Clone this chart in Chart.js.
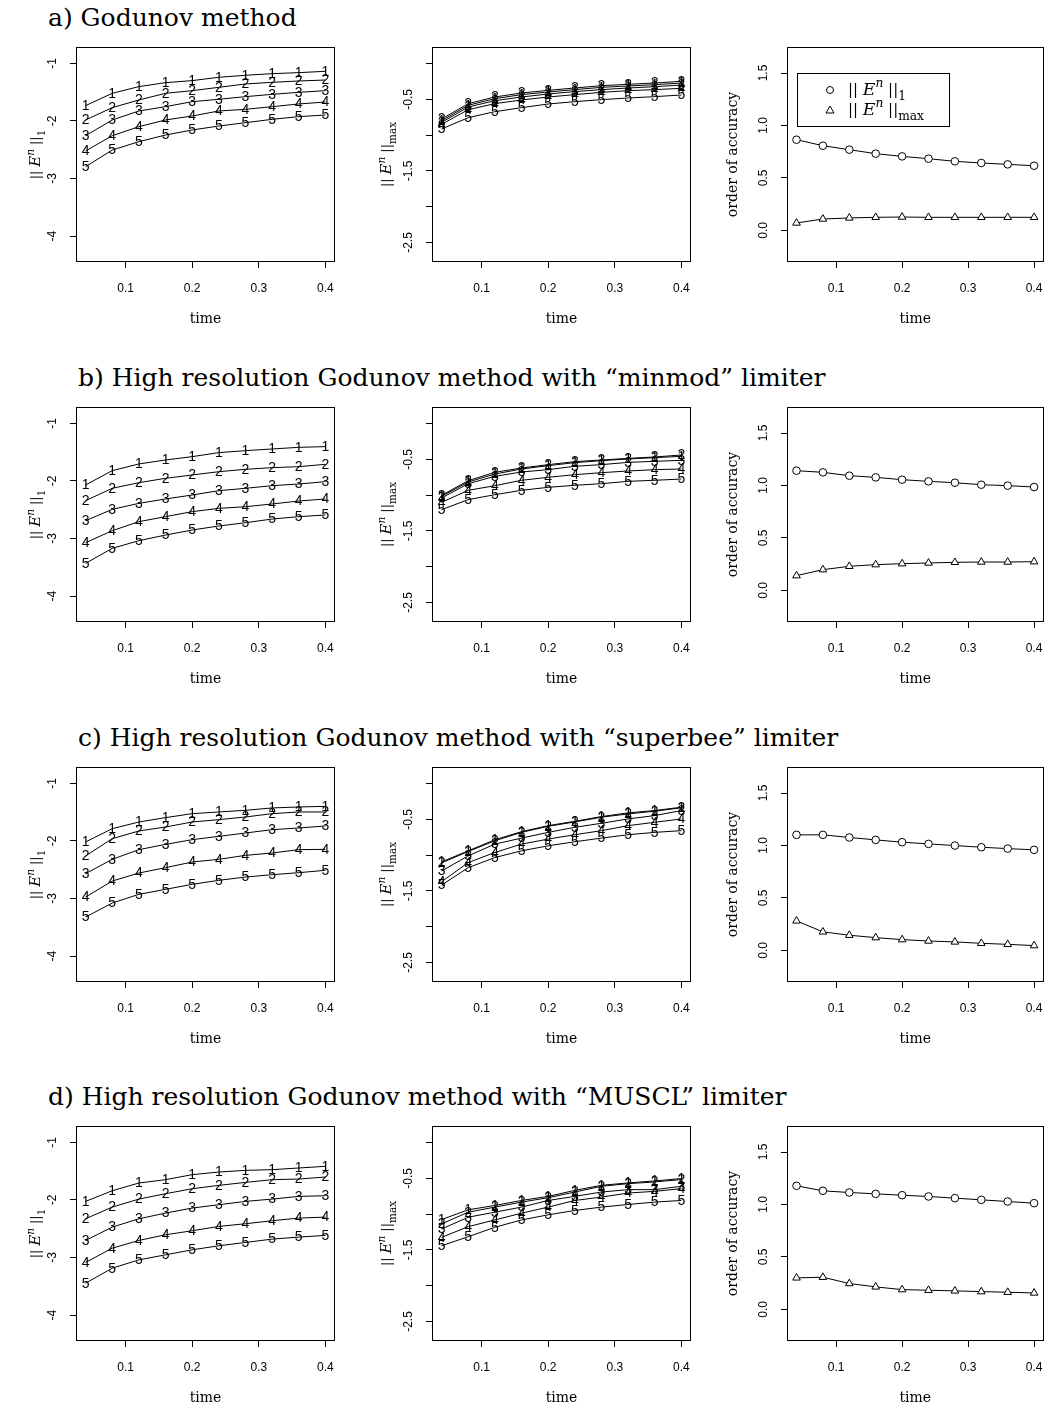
<!DOCTYPE html>
<html>
<head>
<meta charset="utf-8">
<script src="https://cdn.jsdelivr.net/npm/chart.js@4.4.1/dist/chart.umd.min.js"></script>
<style>
  html, body { margin: 0; padding: 0; background: #fff; overflow: hidden; }
  #page { position: relative; width: 1049px; height: 1407px; }
  .row-title { position: absolute; font-family: "DejaVu Serif", serif; font-size: 25px; color: #000; white-space: nowrap; line-height: 1; }
  canvas { position: absolute; }
</style>
</head>
<body>
<div id="page"></div>
<script>
// ---- data ----
const times = [0.04, 0.08, 0.12, 0.16, 0.2, 0.24, 0.28, 0.32, 0.36, 0.4];
const xTicks = [0.1, 0.2, 0.3, 0.4];
const l1Ticks = [-4, -3, -2, -1];
const l1TickLabels = ["-4", "-3", "-2", "-1"];
const maxTicks = [-2.5, -2, -1.5, -1, -0.5, 0];
const maxTickLabels = ["-2.5", "", "-1.5", "", "-0.5", ""];
const orderTicks = [0, 0.5, 1, 1.5];
const orderTickLabels = ["0.0", "0.5", "1.0", "1.5"];

const rowTitles = [
  "a) Godunov method",
  "b) High resolution Godunov method with \u201cminmod\u201d limiter",
  "c) High resolution Godunov method with \u201csuperbee\u201d limiter",
  "d) High resolution Godunov method with \u201cMUSCL\u201d limiter"
];

// a) Godunov
const godunovL1 = [
  [-1.735, -1.521, -1.405, -1.336, -1.301, -1.243, -1.208, -1.180, -1.162, -1.139],
  [-1.984, -1.770, -1.637, -1.521, -1.475, -1.417, -1.359, -1.330, -1.307, -1.290],
  [-2.257, -1.984, -1.828, -1.753, -1.666, -1.625, -1.579, -1.539, -1.504, -1.475],
  [-2.523, -2.257, -2.100, -1.984, -1.915, -1.828, -1.799, -1.753, -1.706, -1.672],
  [-2.795, -2.506, -2.361, -2.245, -2.158, -2.089, -2.031, -1.973, -1.926, -1.898]
];
const godunovMax = [
  [-0.797, -0.582, -0.489, -0.433, -0.396, -0.363, -0.331, -0.312, -0.294, -0.270],
  [-0.774, -0.559, -0.466, -0.410, -0.373, -0.340, -0.308, -0.289, -0.270, -0.247],
  [-0.820, -0.606, -0.517, -0.466, -0.424, -0.391, -0.363, -0.340, -0.322, -0.298],
  [-0.848, -0.643, -0.559, -0.508, -0.466, -0.433, -0.401, -0.377, -0.363, -0.345],
  [-0.913, -0.755, -0.671, -0.615, -0.564, -0.531, -0.503, -0.480, -0.461, -0.438]
];
const godunovOrderL1 = [0.864, 0.807, 0.769, 0.731, 0.705, 0.683, 0.658, 0.642, 0.629, 0.616];
const godunovOrderMax = [0.070, 0.108, 0.118, 0.124, 0.127, 0.124, 0.124, 0.124, 0.124, 0.124];

// b) minmod
const minmodL1 = [
  [-2.071, -1.822, -1.706, -1.637, -1.579, -1.509, -1.475, -1.446, -1.417, -1.405],
  [-2.343, -2.129, -2.031, -1.955, -1.897, -1.840, -1.799, -1.770, -1.753, -1.712],
  [-2.691, -2.494, -2.390, -2.314, -2.245, -2.170, -2.129, -2.083, -2.054, -2.013],
  [-3.073, -2.865, -2.708, -2.621, -2.534, -2.477, -2.448, -2.401, -2.349, -2.314],
  [-3.432, -3.171, -3.038, -2.940, -2.853, -2.783, -2.726, -2.662, -2.621, -2.592]
];
const minmodMax = [
  [-1.016, -0.815, -0.704, -0.634, -0.587, -0.545, -0.517, -0.494, -0.475, -0.457],
  [-1.002, -0.797, -0.680, -0.620, -0.573, -0.531, -0.508, -0.485, -0.466, -0.438],
  [-1.039, -0.839, -0.736, -0.676, -0.643, -0.596, -0.573, -0.541, -0.527, -0.513],
  [-1.100, -0.932, -0.867, -0.792, -0.750, -0.713, -0.685, -0.662, -0.643, -0.634],
  [-1.202, -1.062, -0.993, -0.932, -0.890, -0.862, -0.839, -0.806, -0.792, -0.774]
];
const minmodOrderL1 = [1.141, 1.125, 1.093, 1.077, 1.055, 1.039, 1.026, 1.007, 0.998, 0.985];
const minmodOrderMax = [0.140, 0.197, 0.229, 0.245, 0.254, 0.261, 0.267, 0.270, 0.270, 0.273];

// c) superbee
const superbeeL1 = [
  [-2.019, -1.788, -1.672, -1.596, -1.527, -1.498, -1.469, -1.428, -1.411, -1.400],
  [-2.262, -1.961, -1.828, -1.759, -1.672, -1.631, -1.585, -1.527, -1.498, -1.498],
  [-2.569, -2.320, -2.152, -2.060, -1.979, -1.921, -1.863, -1.805, -1.776, -1.741],
  [-2.975, -2.697, -2.558, -2.465, -2.367, -2.320, -2.251, -2.210, -2.152, -2.147],
  [-3.322, -3.079, -2.928, -2.841, -2.754, -2.685, -2.627, -2.587, -2.552, -2.511]
];
const superbeeMax = [
  [-1.094, -0.939, -0.784, -0.671, -0.587, -0.526, -0.460, -0.408, -0.376, -0.329],
  [-1.108, -0.948, -0.798, -0.681, -0.596, -0.535, -0.469, -0.423, -0.385, -0.338],
  [-1.221, -1.009, -0.845, -0.761, -0.681, -0.610, -0.554, -0.493, -0.446, -0.376],
  [-1.371, -1.103, -0.962, -0.845, -0.775, -0.714, -0.657, -0.587, -0.540, -0.493],
  [-1.418, -1.174, -1.033, -0.939, -0.869, -0.812, -0.761, -0.714, -0.681, -0.657]
];
const superbeeOrderL1 = [1.101, 1.101, 1.076, 1.053, 1.031, 1.015, 0.999, 0.983, 0.970, 0.958];
const superbeeOrderMax = [0.281, 0.176, 0.144, 0.121, 0.102, 0.089, 0.080, 0.067, 0.057, 0.045];

// d) MUSCL
const musclL1 = [
  [-2.026, -1.841, -1.707, -1.649, -1.562, -1.516, -1.487, -1.475, -1.446, -1.417],
  [-2.328, -2.125, -1.986, -1.893, -1.806, -1.748, -1.696, -1.649, -1.638, -1.603],
  [-2.704, -2.472, -2.328, -2.229, -2.142, -2.084, -2.026, -1.986, -1.939, -1.928],
  [-3.087, -2.838, -2.704, -2.606, -2.536, -2.461, -2.414, -2.362, -2.316, -2.299],
  [-3.446, -3.186, -3.041, -2.954, -2.867, -2.797, -2.739, -2.681, -2.646, -2.617]
];
const musclMax = [
  [-1.075, -0.939, -0.878, -0.808, -0.751, -0.667, -0.596, -0.563, -0.535, -0.502],
  [-1.136, -0.972, -0.901, -0.831, -0.770, -0.690, -0.610, -0.573, -0.549, -0.516],
  [-1.207, -1.042, -0.972, -0.901, -0.808, -0.751, -0.690, -0.657, -0.657, -0.610],
  [-1.324, -1.174, -1.080, -0.986, -0.901, -0.808, -0.761, -0.704, -0.681, -0.643],
  [-1.441, -1.315, -1.183, -1.080, -1.009, -0.948, -0.901, -0.864, -0.831, -0.808]
];
const musclOrderL1 = [1.178, 1.130, 1.114, 1.101, 1.088, 1.076, 1.060, 1.044, 1.028, 1.012];
const musclOrderMax = [0.300, 0.306, 0.246, 0.214, 0.188, 0.182, 0.176, 0.169, 0.163, 0.156];

const rows = [
  { l1: godunovL1, max: godunovMax, o1: godunovOrderL1, omax: godunovOrderMax },
  { l1: minmodL1, max: minmodMax, o1: minmodOrderL1, omax: minmodOrderMax },
  { l1: superbeeL1, max: superbeeMax, o1: superbeeOrderL1, omax: superbeeOrderMax },
  { l1: musclL1, max: musclMax, o1: musclOrderL1, omax: musclOrderMax }
];

// ---- layout ----
const COL_LEFT = [76, 432, 787];
const ROW_TOP = [47, 407, 767, 1126];
const TITLE_POS = [[48, 5], [78, 365], [78, 725], [48, 1084]];
const BOX_W = 259, BOX_H = 215;
const Y_AREA = 76, X_AREA = 70, PAD_TOP = 10, PAD_RIGHT = 3;
const SANS = "Liberation Sans";
const SERIF = "DejaVu Serif";

const page = document.getElementById("page");

rowTitles.forEach((t, i) => {
  const d = document.createElement("div");
  d.className = "row-title";
  d.textContent = t;
  d.style.left = TITLE_POS[i][0] + "px";
  d.style.top = TITLE_POS[i][1] + "px";
  page.appendChild(d);
});

function addCanvas(row, col) {
  const c = document.createElement("canvas");
  c.width = Y_AREA + BOX_W + PAD_RIGHT;
  c.height = PAD_TOP + BOX_H + X_AREA;
  c.style.left = (COL_LEFT[col] - Y_AREA) + "px";
  c.style.top = (ROW_TOP[row] - PAD_TOP) + "px";
  page.appendChild(c);
  return c;
}

function zeroPad(s) {
  s.paddingLeft = 0; s.paddingRight = 0; s.paddingTop = 0; s.paddingBottom = 0;
}

const tickGrid = {
  display: true, drawOnChartArea: false, drawTicks: true,
  tickLength: 6, color: "#000", lineWidth: 1
};

function xScale() {
  return {
    type: "linear", min: 0.0256, max: 0.4144, bounds: "data",
    afterBuildTicks: (s) => { s.ticks = xTicks.map((v) => ({ value: v })); },
    afterFit: (s) => { s.height = X_AREA; zeroPad(s); },
    grid: tickGrid,
    border: { display: false },
    ticks: {
      autoSkip: false, minRotation: 0, maxRotation: 0, padding: 13,
      color: "#000", font: { family: SANS, size: 12 },
      callback: (v) => v.toFixed(1)
    },
    title: {
      display: true, text: "time", color: "#000",
      font: { family: SERIF, size: 14 }, padding: { top: 0, bottom: 4 }
    }
  };
}

function yScale(min, max, ticks, labels, pad, title) {
  return {
    type: "linear", min: min, max: max, bounds: "data",
    afterBuildTicks: (s) => { s.ticks = ticks.map((v) => ({ value: v })); },
    afterFit: (s) => { s.width = Y_AREA; zeroPad(s); },
    grid: tickGrid,
    border: { display: false },
    ticks: {
      autoSkip: false, minRotation: 90, maxRotation: 90, crossAlign: "center",
      padding: pad, color: "#000", font: { family: SANS, size: 12 },
      callback: (v, i) => labels[i]
    },
    title: title || { display: false }
  };
}

// box round the plot region
const framePlugin = {
  id: "frame",
  afterDraw(chart) {
    const { ctx, chartArea: a } = chart;
    ctx.save();
    ctx.strokeStyle = "#000";
    ctx.lineWidth = 1;
    ctx.strokeRect(Math.round(a.left) + 0.5, Math.round(a.top) + 0.5,
      Math.round(a.width) - 1, Math.round(a.height) - 1);
    ctx.restore();
  }
};

// series number drawn at every point (pch = "1".."5")
const digitPlugin = {
  id: "digits",
  afterDatasetsDraw(chart) {
    const ctx = chart.ctx;
    ctx.save();
    ctx.fillStyle = "#000";
    ctx.font = "14px " + SANS;
    ctx.textAlign = "center";
    ctx.textBaseline = "middle";
    chart.data.datasets.forEach((ds, i) => {
      chart.getDatasetMeta(i).data.forEach((pt) => {
        ctx.fillText(String(i + 1), pt.x, pt.y + 0.5);
      });
    });
    ctx.restore();
  }
};

function drawRich(ctx, parts, x, y, rotation, size) {
  ctx.save();
  ctx.translate(x, y);
  ctx.rotate(rotation);
  let w = 0;
  const items = parts.map((p) => {
    const s = size * (p.scale || 1);
    const font = (p.italic ? "italic " : "") + s + "px \"" + SERIF + "\"";
    ctx.font = font;
    const m = ctx.measureText(p.t).width;
    w += m;
    return { t: p.t, font: font, w: m, dy: (p.dy || 0) * size };
  });
  let cx = rotation === 0 ? 0 : -w / 2;
  ctx.fillStyle = "#000";
  ctx.textAlign = "left";
  ctx.textBaseline = "alphabetic";
  items.forEach((it) => {
    ctx.font = it.font;
    ctx.fillText(it.t, cx, size * 0.35 + it.dy);
    cx += it.w;
  });
  ctx.restore();
}

const normL1 = [
  { t: "|| ", scale: 0.85, dy: -0.05 }, { t: "E", italic: true }, { t: "n", italic: true, scale: 0.7, dy: -0.45 },
  { t: " ||", scale: 0.85, dy: -0.05 }, { t: "1", scale: 0.7, dy: 0.3 }
];
const normMax = [
  { t: "|| ", scale: 0.85, dy: -0.05 }, { t: "E", italic: true }, { t: "n", italic: true, scale: 0.7, dy: -0.45 },
  { t: " ||", scale: 0.85, dy: -0.05 }, { t: "max", scale: 0.7, dy: 0.3 }
];

function richTitle(parts, offset) {
  return {
    id: "richTitle",
    afterDraw(chart) {
      const a = chart.chartArea;
      drawRich(chart.ctx, parts, a.left - offset, (a.top + a.bottom) / 2, -Math.PI / 2, 15);
    }
  };
}

const legendPlugin = {
  id: "normLegend",
  afterDraw(chart) {
    const { ctx, chartArea: a } = chart;
    const bx = Math.round(a.left) + 10, by = Math.round(a.top) + 26;
    ctx.save();
    ctx.strokeStyle = "#000";
    ctx.lineWidth = 1;
    ctx.strokeRect(bx + 0.5, by + 0.5, 152, 53);
    ctx.beginPath();
    ctx.arc(bx + 33, by + 17, 3.5, 0, Math.PI * 2);
    ctx.stroke();
    ctx.beginPath();
    ctx.moveTo(bx + 33, by + 33);
    ctx.lineTo(bx + 37, by + 40);
    ctx.lineTo(bx + 29, by + 40);
    ctx.closePath();
    ctx.stroke();
    ctx.restore();
    drawRich(ctx, normL1, bx + 51, by + 16, 0, 17.5);
    drawRich(ctx, normMax, bx + 51, by + 36, 0, 17.5);
  }
};

const baseOptions = () => ({
  responsive: false,
  animation: false,
  events: [],
  layout: { padding: { left: 0, top: PAD_TOP, right: PAD_RIGHT, bottom: 0 } },
  plugins: { legend: { display: false }, tooltip: { enabled: false } }
});

function lineSet(values, extra) {
  return Object.assign({
    data: values.map((v, i) => ({ x: times[i], y: v })),
    borderColor: "#000",
    borderWidth: 1,
    tension: 0,
    pointRadius: 0,
    fill: false
  }, extra || {});
}

rows.forEach((r, row) => {
  // ||E^n||_1 panel
  new Chart(addCanvas(row, 0), {
    type: "line",
    data: { datasets: r.l1.map((s) => lineSet(s)) },
    options: Object.assign(baseOptions(), {
      scales: {
        x: xScale(),
        y: yScale(-4.45, -0.717, l1Ticks, l1TickLabels, 12)
      }
    }),
    plugins: [framePlugin, digitPlugin, richTitle(normL1, 41)]
  });

  // ||E^n||_max panel
  new Chart(addCanvas(row, 1), {
    type: "line",
    data: { datasets: r.max.map((s) => lineSet(s)) },
    options: Object.assign(baseOptions(), {
      scales: {
        x: xScale(),
        y: yScale(-2.773, 0.233, maxTicks, maxTickLabels, 7)
      }
    }),
    plugins: [framePlugin, digitPlugin, richTitle(normMax, 46)]
  });

  // order of accuracy panel
  const marker = {
    pointRadius: 3.8, pointBorderColor: "#000", pointBackgroundColor: "#fff",
    pointBorderWidth: 1
  };
  new Chart(addCanvas(row, 2), {
    type: "line",
    data: {
      datasets: [
        lineSet(r.o1, Object.assign({ pointStyle: "circle" }, marker)),
        lineSet(r.omax, Object.assign({ pointStyle: "triangle" }, marker, { pointRadius: 4.4 }))
      ]
    },
    options: Object.assign(baseOptions(), {
      scales: {
        x: xScale(),
        y: yScale(-0.302, 1.748, orderTicks, orderTickLabels, 9, {
          display: true, text: "order of accuracy", color: "#000",
          font: { family: SERIF, size: 14 }, padding: { top: 14, bottom: 0 }
        })
      }
    }),
    plugins: row === 0 ? [framePlugin, legendPlugin] : [framePlugin]
  });
});
</script>
</body>
</html>
